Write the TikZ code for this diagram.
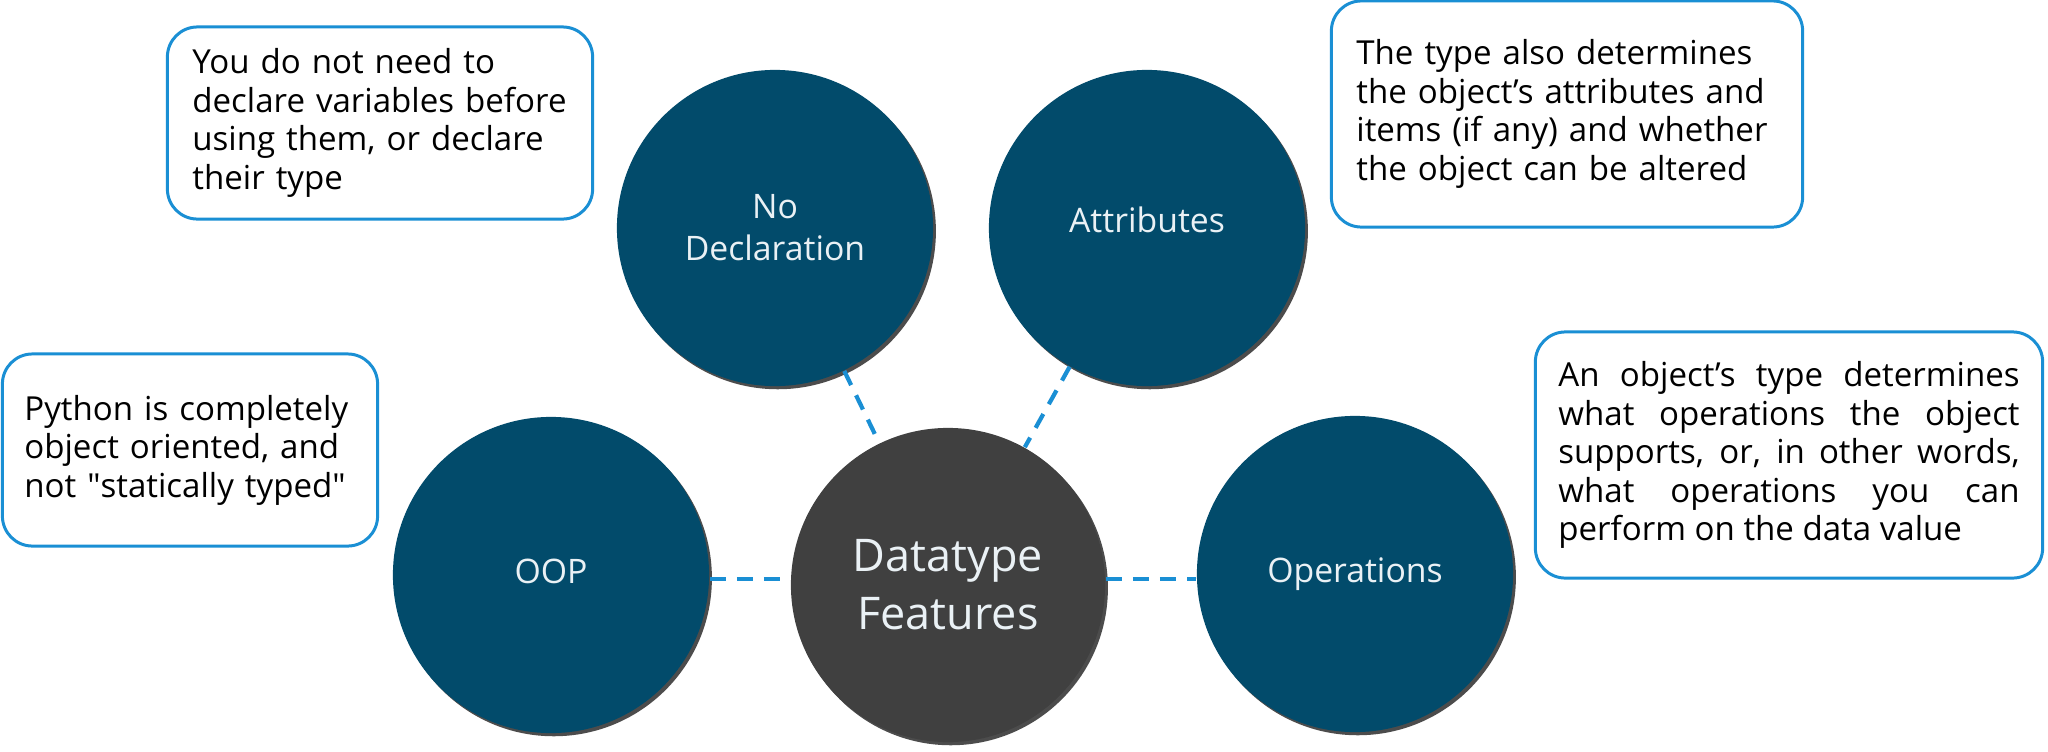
\documentclass[tikz,border=0pt]{standalone}
\usepackage{fontspec}
\setmainfont{Open Sans}
\usetikzlibrary{shadows}
\definecolor{featblue}{HTML}{024B6B}
\definecolor{hubgray}{HTML}{404040}
\definecolor{noteblue}{HTML}{1A8FD4}
\definecolor{lighttext}{HTML}{EAF1F5}
\tikzset{
  feature/.style = {
    circle, fill=featblue, minimum size=3.16cm, inner sep=0pt,
    text=lighttext, align=center,
    font=\fontsize{9.6}{11.9}\selectfont,
    drop shadow={shadow xshift=0.8pt, shadow yshift=-0.9pt, opacity=0.7, fill=black}
  },
  hub/.style = {
    feature, fill=hubgray, minimum size=3.14cm,
    font=\fontsize{12.8}{16.5}\selectfont
  },
  note/.style = {
    draw=noteblue, line width=0.85pt, rounded corners=0.3cm, fill=white,
    inner sep=0pt, align=left,
    font=\fontsize{9.4}{10.95}\selectfont
  },
  link/.style = {
    draw=noteblue, line width=1.2pt, dash pattern=on 4.5pt off 3.2pt
  }
}

\begin{document}
\begin{tikzpicture}[x=0.01cm,y=-0.01cm]
  \useasboundingbox (0,0) rectangle (2048,751);
  % circles
  \node[hub] (Datatype) at (948,585) {Datatype\\Features};
  \node[feature] (NoDecl) at (775,228) {No\\Declaration};
  \node[feature, text depth=0.16cm] (Attributes) at (1147,228) {Attributes};
  \node[feature, text depth=0.08cm] (OOP) at (551,575) {OOP};
  \node[feature] (Operations) at (1355,574) {Operations};
  % notes
  \node[note, text width=3.75cm, minimum width=4.25cm, minimum height=1.92cm]
    (noteNoDecl) at (380,123)
    {You do not need to\\declare variables before\\using them, or declare\\their type};
  \node[note, text width=4.21cm, minimum width=4.71cm, minimum height=2.26cm]
    (noteAttributes) at (1567,114)
    {The type also determines\\the object’s attributes and\\items (if any) and whether\\the object can be altered};
  \node[note, text width=3.31cm, minimum width=3.75cm, minimum height=1.92cm]
    (noteOOP) at (190,450)
    {Python is completely\\object oriented, and\\not \textquotedbl statically typed\textquotedbl};
  \node[note, align=justify, text width=4.61cm, minimum width=5.07cm, minimum height=2.46cm]
    (noteOperations) at (1789,455)
    {An object’s type determines\linebreak what operations the object\linebreak supports, or, in other words,\linebreak what operations you can\linebreak perform on the data value};
  % links
  \coordinate (midrow) at (0,579);
  \draw[link] (NoDecl) -- (Datatype);
  \draw[link] (Attributes) -- (Datatype);
  \draw[link] (OOP.east |- midrow) -- (Datatype.west |- midrow);
  \draw[link] (Datatype.east |- midrow) -- (Operations.west |- midrow);
\end{tikzpicture}
\end{document}
